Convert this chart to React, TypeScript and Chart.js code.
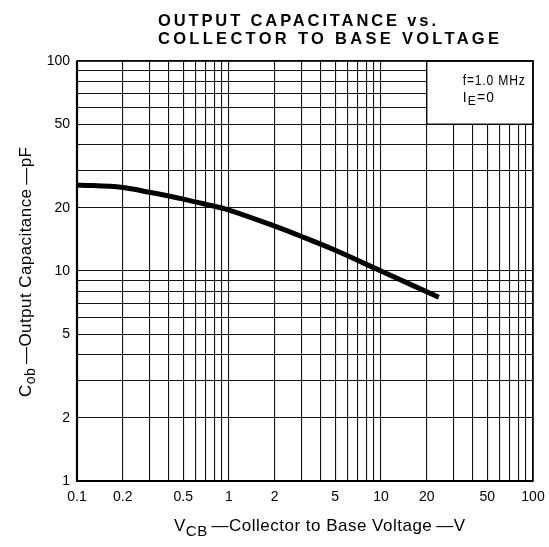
import React, { useEffect, useRef } from "react";
import { Chart, registerables } from "chart.js";

Chart.register(...registerables);

// ---- data ----
const voltage = [0.1, 0.2, 0.3, 0.5, 0.7, 1, 2, 3, 5, 10, 24];
const capacitance = [25.7, 25.0, 23.7, 22.0, 20.8, 19.5, 16.35, 14.6, 12.55, 10.0, 7.5];

const xLabelTicks = [0.1, 0.2, 0.5, 1, 2, 5, 10, 20, 50, 100];
const yLabelTicks = [1, 2, 5, 10, 20, 50, 100];
const xGridTicks = [
  0.1, 0.2, 0.3, 0.4, 0.5, 0.6, 0.7, 0.8, 0.9,
  1, 2, 3, 4, 5, 6, 7, 8, 9,
  10, 20, 30, 40, 50, 60, 70, 80, 90, 100,
];
const yGridTicks = [
  1, 2, 3, 4, 5, 6, 7, 8, 9,
  10, 20, 30, 40, 50, 60, 70, 80, 90, 100,
];

const titleLines = ["OUTPUT CAPACITANCE vs.", "COLLECTOR TO BASE VOLTAGE"];
const noteLine1 = "f=1.0 MHz";

const FONT = "'Liberation Sans', Arial, sans-serif";

type Part = { t: string; size: number; dy: number };

function drawParts(ctx: CanvasRenderingContext2D, parts: Part[], x: number, y: number, target: number) {
  ctx.letterSpacing = "0px";
  let natural = 0;
  let n = 0;
  for (const p of parts) {
    ctx.font = `${p.size}px ${FONT}`;
    natural += ctx.measureText(p.t).width;
    n += [...p.t].length;
  }
  const ls = n > 1 ? (target - natural) / (n - 1) : 0;
  ctx.letterSpacing = `${ls}px`;
  let cx = x;
  ctx.textAlign = "left";
  ctx.textBaseline = "alphabetic";
  for (const p of parts) {
    ctx.font = `${p.size}px ${FONT}`;
    ctx.fillText(p.t, cx, y + p.dy);
    cx += ctx.measureText(p.t).width;
  }
  ctx.letterSpacing = "0px";
}

function drawFit(ctx: CanvasRenderingContext2D, text: string, x: number, y: number, font: string, target: number) {
  ctx.font = font;
  ctx.letterSpacing = "0px";
  const w = ctx.measureText(text).width;
  const n = [...text].length;
  const ls = (target - w) / (n - 1);
  ctx.letterSpacing = `${ls}px`;
  ctx.textAlign = "left";
  ctx.textBaseline = "alphabetic";
  ctx.fillText(text, x, y);
  ctx.letterSpacing = "0px";
}

function drawSquash(ctx: CanvasRenderingContext2D, text: string, x: number, y: number, font: string, target: number) {
  ctx.save();
  ctx.font = font;
  ctx.letterSpacing = "1px";
  const w = ctx.measureText(text).width - 1;
  ctx.translate(x, y);
  ctx.scale(target / w, 1);
  ctx.textAlign = "left";
  ctx.textBaseline = "alphabetic";
  ctx.fillText(text, 0, 0);
  ctx.restore();
}

const decorPlugin = {
  id: "decor",
  afterDraw(chart: any) {
    const ctx: CanvasRenderingContext2D = chart.ctx;
    const xs = chart.scales.x;
    const ys = chart.scales.y;
    const area = chart.chartArea;
    ctx.save();
    ctx.fillStyle = "#000";
    ctx.strokeStyle = "#000";

    // legend box
    const bx0 = xs.getPixelForValue(20);
    const bx1 = xs.getPixelForValue(100);
    const by0 = ys.getPixelForValue(100);
    const by1 = ys.getPixelForValue(50);
    ctx.fillStyle = "#fff";
    ctx.fillRect(bx0, by0, bx1 - bx0, by1 - by0);
    ctx.lineWidth = 1.3;
    ctx.strokeRect(bx0, by0, bx1 - bx0, by1 - by0);

    // outer frame
    ctx.lineWidth = 1.6;
    ctx.strokeRect(area.left, area.top, area.right - area.left, area.bottom - area.top);
    ctx.lineWidth = 2.2;
    ctx.beginPath();
    ctx.moveTo(area.left, area.top);
    ctx.lineTo(area.left, area.bottom);
    ctx.lineTo(area.right, area.bottom);
    ctx.stroke();

    ctx.fillStyle = "#000";
    // note text
    const nx = bx0 + 36;
    drawSquash(ctx, noteLine1, nx, 84.5, `15px ${FONT}`, 62);
    ctx.save();
    ctx.translate(nx, 0);
    ctx.scale(0.92, 1);
    drawParts(
      ctx,
      [
        { t: "I", size: 15, dy: 0 },
        { t: "E", size: 13, dy: 3.5 },
        { t: "=0", size: 15, dy: 0 },
      ],
      0,
      101.5,
      34
    );
    ctx.restore();

    // title
    drawFit(ctx, titleLines[0], 158, 25.5, `bold 16.5px ${FONT}`, 278);
    drawFit(ctx, titleLines[1], 158, 43.5, `bold 16.5px ${FONT}`, 341);

    // x axis title
    drawParts(
      ctx,
      [
        { t: "V", size: 17, dy: 0 },
        { t: "CB", size: 15, dy: 5 },
        { t: "\u2009\u2014Collector to Base Voltage\u2009\u2014V", size: 17, dy: 0 },
      ],
      174,
      531,
      291
    );

    // y axis title (rotated)
    ctx.translate(31, 397);
    ctx.rotate(-Math.PI / 2);
    drawParts(
      ctx,
      [
        { t: "C", size: 17, dy: 0 },
        { t: "ob", size: 14, dy: 4 },
        { t: "\u2009\u2014Output Capacitance\u2009\u2014pF", size: 17, dy: 0 },
      ],
      0,
      0,
      250
    );
    ctx.restore();
  },
};

export default function App() {
  const ref = useRef<HTMLCanvasElement | null>(null);

  useEffect(() => {
    if (!ref.current) return;
    const chart = new Chart(ref.current, {
      type: "line",
      data: {
        datasets: [
          {
            data: voltage.map((v, i) => ({ x: v, y: capacitance[i] })),
            borderColor: "#000",
            borderWidth: 5,
            pointRadius: 0,
            tension: 0.35,
            fill: false,
            borderCapStyle: "butt",
          },
        ],
      },
      options: {
        animation: false,
        responsive: false,
        devicePixelRatio: 1,
        layout: { padding: { left: 0, right: 16, top: 61, bottom: 0 } },
        plugins: {
          legend: { display: false },
          title: { display: false },
          tooltip: { enabled: false },
        },
        scales: {
          x: {
            type: "logarithmic",
            min: 0.1,
            max: 100,
            afterBuildTicks: (scale: any) => {
              scale.ticks = xGridTicks.map((v) => ({ value: v }));
            },
            afterFit: (scale: any) => {
              scale.height = 66;
              scale.paddingLeft = 0;
              scale.paddingRight = 0;
            },
            ticks: {
              autoSkip: false,
              maxRotation: 0,
              padding: 8,
              color: "#000",
              font: { family: FONT, size: 14 },
              callback: (value: any) => (xLabelTicks.includes(Number(value)) ? String(value) : ""),
            },
            grid: { color: "#111", lineWidth: 1.1, drawTicks: false },
            border: { display: false },
          },
          y: {
            type: "logarithmic",
            min: 1,
            max: 100,
            afterBuildTicks: (scale: any) => {
              scale.ticks = yGridTicks.map((v) => ({ value: v }));
            },
            afterFit: (scale: any) => {
              scale.width = 77;
              scale.paddingTop = 0;
              scale.paddingBottom = 0;
            },
            ticks: {
              autoSkip: false,
              padding: 7,
              color: "#000",
              font: { family: FONT, size: 14 },
              callback: (value: any) => (yLabelTicks.includes(Number(value)) ? String(value) : ""),
            },
            grid: { color: "#111", lineWidth: 1.1, drawTicks: false },
            border: { display: false },
          },
        },
      } as any,
      plugins: [decorPlugin],
    });
    return () => chart.destroy();
  }, []);

  return (
    <div style={{ position: "absolute", left: 0, top: 0, width: 549, height: 547, background: "#fff" }}>
      <canvas ref={ref} width={549} height={547} style={{ display: "block" }} />
    </div>
  );
}
